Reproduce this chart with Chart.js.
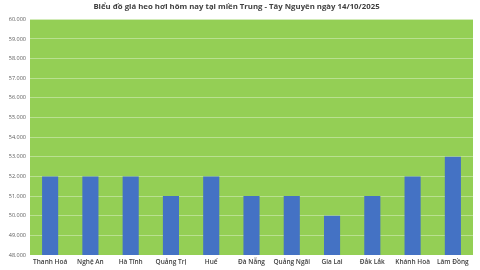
<!DOCTYPE html>
<html>
<head>
<meta charset="utf-8">
<script src="https://cdn.jsdelivr.net/npm/chart.js@4.4.0/dist/chart.umd.min.js"></script>
<style>
  html, body { margin: 0; padding: 0; background: #ffffff; }
  #wrap { width: 480px; height: 270px; }
</style>
</head>
<body>
<div id="wrap"><canvas id="myBarChart" width="480" height="270"></canvas></div>
<script>
// categories and prices (VND/kg)
var provinces = ['Thanh Hoá', 'Nghệ An', 'Hà Tĩnh', 'Quảng Trị', 'Huế', 'Đà Nẵng', 'Quảng Ngãi', 'Gia Lai', 'Đắk Lắk', 'Khánh Hoà', 'Lâm Đồng'];
var prices = [52000, 52000, 52000, 51000, 52000, 51000, 51000, 50000, 51000, 52000, 53000];
var yMin = 48000;
var yMax = 60000;
var yStep = 1000;

// paint the plot area green
var areaFill = {
    id: 'areaFill',
    beforeDraw: function (chart) {
        var a = chart.chartArea;
        var c = chart.ctx;
        c.save();
        c.fillStyle = '#94CF55';
        c.fillRect(a.left, a.top, a.right - a.left, a.bottom - a.top);
        c.restore();
    }
};

var ctx = document.getElementById('myBarChart').getContext('2d');
var myBarChart = new Chart(ctx, {
    type: 'bar',
    data: {
        labels: provinces,
        datasets: [{
            data: prices,
            backgroundColor: '#4472C4',
            borderWidth: 0,
            categoryPercentage: 1,
            barPercentage: 0.4
        }]
    },
    options: {
        responsive: false,
        animation: false,
        layout: { padding: { top: 2, right: 7, left: 0, bottom: 0 } },
        plugins: {
            legend: { display: false },
            tooltip: { enabled: false },
            title: {
                display: true,
                text: 'Biểu đồ giá heo hơi hôm nay tại miền Trung - Tây Nguyên ngày 14/10/2025',
                color: '#404040',
                font: { family: 'Open Sans', size: 7.8, weight: 'bold' },
                padding: { top: 0, bottom: 8 }
            }
        },
        scales: {
            x: {
                grid: { display: false, drawTicks: false },
                border: { display: false },
                ticks: {
                    color: '#404040',
                    font: { family: 'Open Sans', size: 6.5, weight: '600' },
                    maxRotation: 0,
                    autoSkip: false,
                    padding: 3
                },
                afterFit: function (s) { s.height = 15; }
            },
            y: {
                min: yMin,
                max: yMax,
                grid: { color: 'rgba(255,255,255,0.35)', lineWidth: 1, drawTicks: false },
                border: { display: false },
                ticks: {
                    stepSize: yStep,
                    color: '#595959',
                    font: { family: 'Open Sans', size: 5.5 },
                    padding: 4,
                    callback: function (v) { return v.toLocaleString('de-DE'); }
                },
                afterFit: function (s) { s.width = 30; }
            }
        }
    },
    plugins: [areaFill]
});
</script>
</body>
</html>
